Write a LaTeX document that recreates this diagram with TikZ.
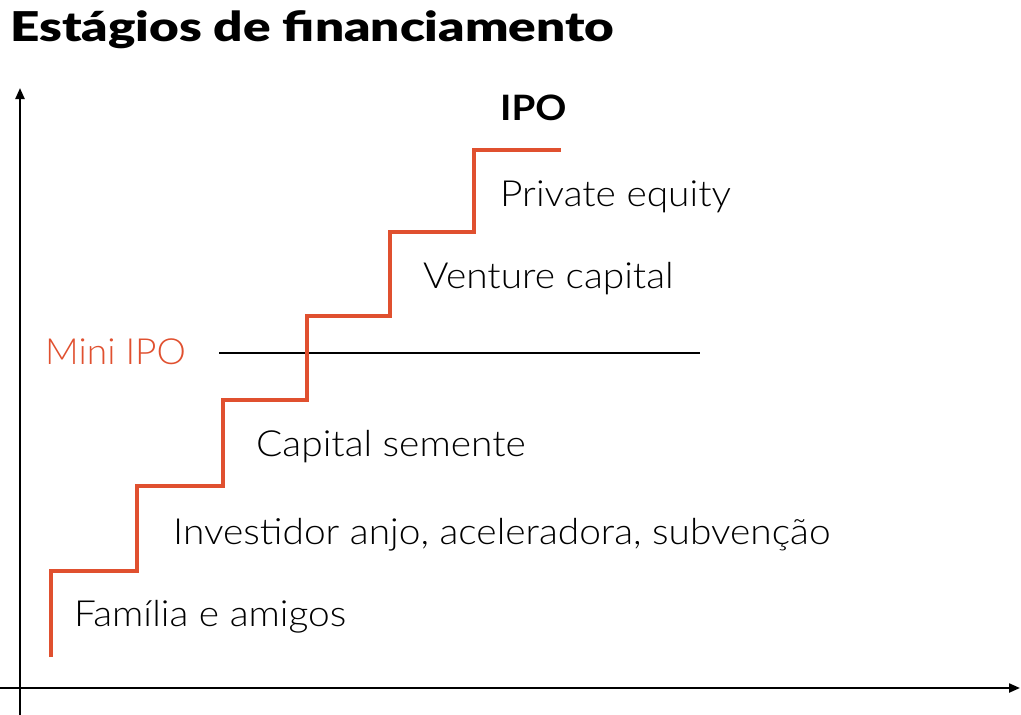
\documentclass[tikz,border=0pt]{standalone}
\usepackage{fontspec}
\setmainfont{Lato Light}[FakeStretch=1.08]
\newfontfamily\titlefont{Lato Black}[FakeStretch=1.25]
\newfontfamily\boldfont{Lato Bold}[FakeStretch=1.1]
\newfontfamily\minifont{Lato Light}[FakeStretch=1.03]
\usetikzlibrary{arrows.meta}
\definecolor{stair}{HTML}{E0502F}
\tikzset{
  axis/.style={line width=2.2pt,-{Triangle[length=11pt,width=9pt]}},
  stairline/.style={line width=4.5pt,stair,line join=miter},
  lbl/.style={anchor=base west,inner sep=0pt,font=\fontsize{36}{40}\selectfont},
}
\begin{document}
\begin{tikzpicture}[x=1pt,y=-1pt]
\useasboundingbox (0,0) rectangle (1021,715);
% title
\node[anchor=base west,inner sep=0pt,font=\titlefont\fontsize{41}{46}\selectfont] (title) at (10,41) {Estágios de financiamento};
% axes
\coordinate (yb) at (20,715);
\coordinate (yt) at (20,88);
\coordinate (xl) at (0,688);
\coordinate (xr) at (1020,688);
\draw[axis] (yb) -- (yt);
\draw[axis] (xl) -- (xr);
% mini IPO line
\coordinate (m1) at (219,353);
\coordinate (m2) at (700,353);
\draw[line width=1.4pt] (m1) -- (m2);
% staircase
\coordinate (s0) at (51,657);
\coordinate (s1) at (561,150);
\draw[stairline] (s0) -- (51,571) -- (137,571) -- (137,486) -- (223,486) -- (223,400) -- (307,400) -- (307,316) -- (390,316) -- (390,232) -- (474,232) -- (474,150) -- (s1);
% labels
\node[anchor=base west,inner sep=0pt,font=\boldfont\fontsize{35}{38}\selectfont] (ipo) at (500,120) {IPO};
\node[lbl] (pe) at (500,206) {Private equity};
\node[lbl] (vc) at (423,288) {Venture capital};
\node[lbl,text=stair,font=\minifont\fontsize{36}{40}\selectfont] (mini) at (45,364) {Mini IPO};
\node[lbl] (cs) at (256,456) {Capital semente};
\node[lbl] (inv) at (173,544) {Investidor anjo, aceleradora, subvenção};
\node[lbl] (fam) at (74,626) {Família e amigos};
\end{tikzpicture}
\end{document}
